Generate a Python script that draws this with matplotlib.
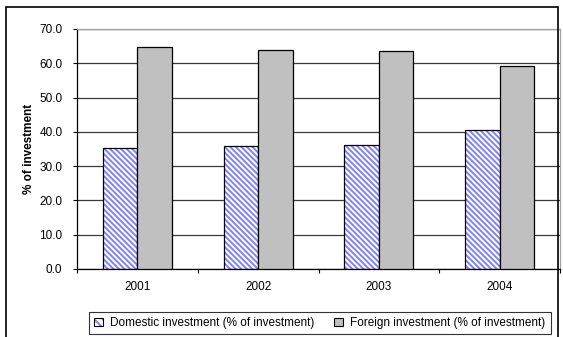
import matplotlib
matplotlib.use("Agg")
import matplotlib.pyplot as plt
import numpy as np
from matplotlib.patches import Rectangle, Patch
from matplotlib.legend_handler import HandlerTuple

years = ["2001", "2002", "2003", "2004"]
domestic = [35.2, 35.9, 36.2, 40.6]
foreign = [64.8, 63.9, 63.6, 59.1]
yticks = [0, 10, 20, 30, 40, 50, 60, 70]
series_names = ["Domestic investment (% of investment)", "Foreign investment (% of investment)"]

plt.rcParams['font.family'] = ['Liberation Sans', 'DejaVu Sans']
plt.rcParams['hatch.linewidth'] = 1.4

fig = plt.figure(figsize=(5.63, 3.37), dpi=100)
ax = fig.add_axes([0.1368, 0.2018, 0.8579, 0.7122])

x = np.arange(len(years))
w = 0.286
hatch_col = '#8080ff'
hatch = '\\' * 6
fs = 8.5

ax.bar(x - w/2, domestic, w, color='white', edgecolor=hatch_col, hatch=hatch, linewidth=0, zorder=2)
ax.bar(x - w/2, domestic, w, fill=False, edgecolor='black', linewidth=0.9, zorder=3)
ax.bar(x + w/2, foreign, w, color='#c0c0c0', edgecolor='black', linewidth=0.9, zorder=3)

ax.set_xlim(-0.5, 3.5)
ax.set_ylim(0, 70)
ax.set_yticks(yticks)
ax.set_yticklabels([f"{v:.1f}" for v in yticks], fontsize=fs)
ax.yaxis.grid(True, color='#3a3a3a', linewidth=0.9, zorder=0)
ax.set_axisbelow(True)

ax.set_xticks(x)
ax.set_xticklabels(years, fontsize=fs)
ax.tick_params(axis='x', which='major', length=0, pad=9)
ax.set_xticks(np.arange(-0.5, 4.0, 1.0), minor=True)
ax.tick_params(axis='x', which='minor', length=3, direction='out', width=0.8)
ax.tick_params(axis='y', length=3, width=0.8, pad=7.5)

ax.spines['top'].set_color('#a0a0a0')
ax.spines['right'].set_color('#a0a0a0')
ax.spines['left'].set_color('black')
ax.spines['bottom'].set_color('black')
for s in ax.spines.values():
    s.set_linewidth(0.9)

ax.set_ylabel("% of investment", fontsize=fs, fontweight='bold', labelpad=3)

h1 = (Patch(facecolor='white', edgecolor=hatch_col, hatch='\\' * 4, linewidth=0),
      Patch(fill=False, edgecolor='black', linewidth=0.8))
h2 = Patch(facecolor='#c0c0c0', edgecolor='black', linewidth=0.8)
leg = fig.legend([h1, h2], series_names, loc='center', bbox_to_anchor=(0.568, 0.0415),
                 ncol=2, fontsize=fs, frameon=True, fancybox=False, shadow=False,
                 handlelength=0.75, handleheight=0.75, handletextpad=0.6, columnspacing=1.7,
                 borderpad=0.45, borderaxespad=0,
                 handler_map={tuple: HandlerTuple(ndivide=1, pad=0)})
leg.get_frame().set_edgecolor('black')
leg.get_frame().set_linewidth(0.8)

frame = Rectangle((6/563, -0.05), (558-6)/563, 1.05 - 7/337, transform=fig.transFigure,
                  fill=False, edgecolor='black', linewidth=1.2, clip_on=False)
fig.patches.append(frame)

fig.savefig("out.png", dpi=100)
